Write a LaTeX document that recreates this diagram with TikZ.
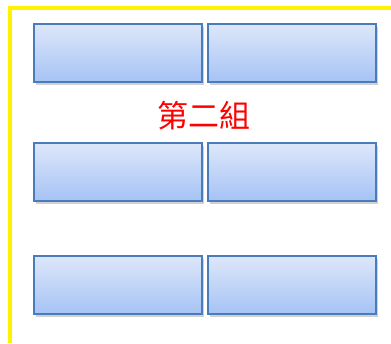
\documentclass[tikz,border=0pt]{standalone}
\usepackage{fontspec}
\newfontfamily\cjk{Noto Sans CJK TC}
\usetikzlibrary{shadows}
\definecolor{boxtop}{HTML}{DDE7FA}
\definecolor{boxbot}{HTML}{A6C3F5}
\definecolor{boxline}{HTML}{4A7BBB}
\tikzset{
  cell/.style={draw=boxline, line width=1.7pt, top color=boxtop, bottom color=boxbot,
    minimum width=168pt, minimum height=58pt, inner sep=0pt, anchor=north west,
    drop shadow={shadow xshift=2pt, shadow yshift=-3pt, opacity=0.3, fill=black!60}},
  title/.style={text=red, font=\cjk\fontsize{31}{31}\selectfont}
}
\begin{document}
\begin{tikzpicture}[x=1pt,y=-1pt]
\useasboundingbox (0,0) rectangle (391,343);
\draw[yellow, line width=4pt] (10,343) -- (10,8) -- (391,8);
\node[cell] (a1) at (33,23) {};
\node[cell] (a2) at (207,23) {};
\node[cell] (b1) at (33,142) {};
\node[cell] (b2) at (207,142) {};
\node[cell] (c1) at (33,255) {};
\node[cell] (c2) at (207,255) {};
\node[title] (t) at (204,116) {第二組};
\end{tikzpicture}
\end{document}
